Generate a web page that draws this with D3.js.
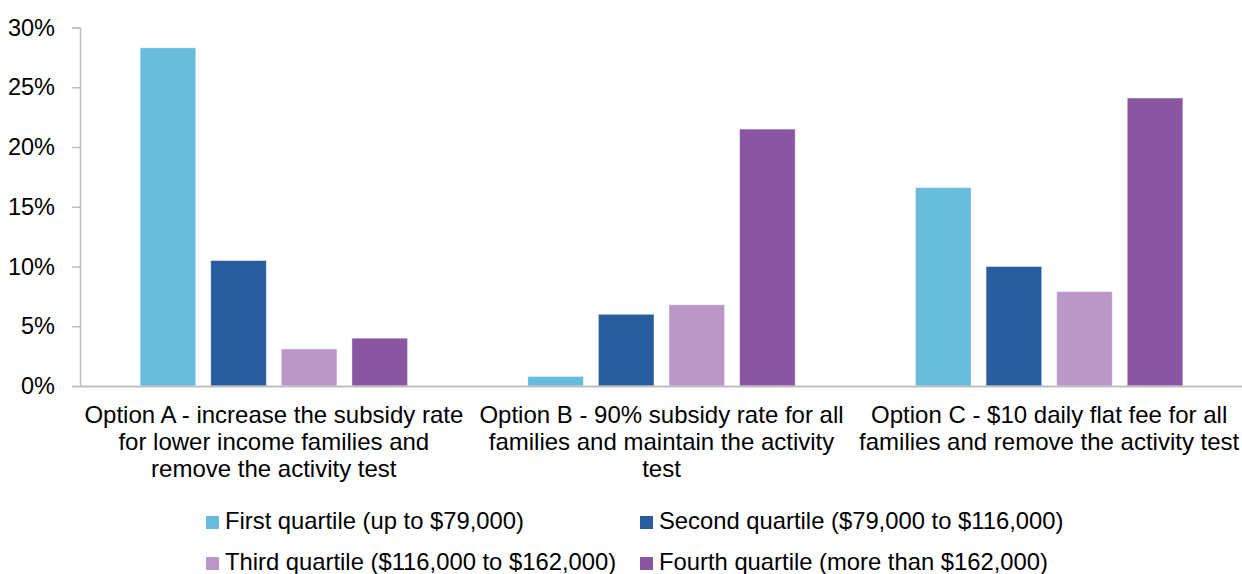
<!DOCTYPE html>
<html>
<head>
<meta charset="utf-8">
<script src="https://cdn.jsdelivr.net/npm/d3@7"></script>
<style>
  html, body { margin: 0; padding: 0; background: #fff; }
  svg { display: block; font-family: "Liberation Sans", Arial, sans-serif; }
</style>
</head>
<body>
<svg id="chart" width="1242" height="574"></svg>
<script>
// Options compared (label lines for the category axis)
const optionLabels = [
  ["Option A - increase the subsidy rate", "for lower income families and", "remove the activity test"],
  ["Option B - 90% subsidy rate for all", "families and maintain the activity", "test"],
  ["Option C - $10 daily flat fee for all", "families and remove the activity test"]
];
const options = ["A", "B", "C"];

// Income quartiles (series)
const quartiles = [
  "First quartile (up to $79,000)",
  "Second quartile ($79,000 to $116,000)",
  "Third quartile ($116,000 to $162,000)",
  "Fourth quartile (more than $162,000)"
];
const quartileColors = ["#67bcdb", "#285c9c", "#bb97c8", "#8956a1"];

// Share of families in each quartile, per option (%)
const firstQuartile  = [28.3, 0.8, 16.6];
const secondQuartile = [10.5, 6.0, 10.0];
const thirdQuartile  = [3.1, 6.8, 7.9];
const fourthQuartile = [4.0, 21.5, 24.1];
const seriesValues = [firstQuartile, secondQuartile, thirdQuartile, fourthQuartile];

const yTicks = [0, 5, 10, 15, 20, 25, 30];

const FONT = 23.5;
const CAT_FONT = 24;
const svg = d3.select("#chart");
const margin = { left: 80, right: -1, top: 27.5 };
const W = 1242;

const x0 = d3.scaleBand().domain(options).range([margin.left, W - margin.right]).padding(0);
const x1 = d3.scaleBand().domain(d3.range(quartiles.length))
  .range([0, x0.bandwidth()]).paddingInner(0.212).paddingOuter(0.852);
const y = d3.scaleLinear().domain([0, 30]).range([386, margin.top]);

// Bars
const groups = svg.append("g").selectAll("g")
  .data(options)
  .join("g")
  .attr("transform", d => `translate(${x0(d)},0)`);

groups.selectAll("rect")
  .data((d, i) => seriesValues.map((s, k) => ({ k, v: s[i] })))
  .join("rect")
  .attr("x", d => x1(d.k))
  .attr("width", x1.bandwidth())
  .attr("y", d => y(d.v))
  .attr("height", d => y(0) - y(d.v))
  .attr("fill", d => quartileColors[d.k])
  .attr("stroke", "#ffffff")
  .attr("stroke-opacity", 0.45)
  .attr("stroke-width", 1);

// Y axis
const yAxis = svg.append("g")
  .attr("transform", `translate(${margin.left},0)`)
  .call(d3.axisLeft(y).tickValues(yTicks).tickFormat(d => d + "%").tickSize(8).tickPadding(17));
yAxis.select(".domain").attr("stroke", "#bfbfbf").attr("stroke-width", 1.5);
yAxis.selectAll(".tick line").attr("stroke", "#bfbfbf").attr("stroke-width", 1.5);
yAxis.selectAll(".tick text").attr("font-size", FONT).attr("fill", "#000")
  .attr("font-family", "Liberation Sans, Arial, sans-serif");

// Category baseline
svg.append("line")
  .attr("x1", margin.left).attr("x2", W)
  .attr("y1", y(0) + 0.5).attr("y2", y(0) + 0.5)
  .attr("stroke", "#bfbfbf").attr("stroke-width", 2);

// Category labels
const catText = svg.append("g").selectAll("text")
  .data(options)
  .join("text")
  .attr("x", d => x0(d) + x0.bandwidth() / 2)
  .attr("y", 423)
  .attr("text-anchor", "middle")
  .attr("font-size", CAT_FONT)
  .attr("fill", "#000");
catText.selectAll("tspan")
  .data((d, i) => optionLabels[i])
  .join("tspan")
  .attr("x", function () { return d3.select(this.parentNode).attr("x"); })
  .attr("dy", (d, i) => i === 0 ? 0 : 27)
  .text(d => d);

// Legend
const legendPos = [[206, 529], [640, 529], [206, 570], [640, 570]];
const legend = svg.append("g").selectAll("g")
  .data(quartiles)
  .join("g")
  .attr("transform", (d, i) => `translate(${legendPos[i][0]},${legendPos[i][1]})`);
legend.append("rect")
  .attr("x", 0).attr("y", -13).attr("width", 13).attr("height", 13)
  .attr("fill", (d, i) => quartileColors[i]);
legend.append("text")
  .attr("x", 19).attr("y", 0)
  .attr("font-size", 23.8).attr("fill", "#000")
  .text(d => d);
</script>
</body>
</html>
